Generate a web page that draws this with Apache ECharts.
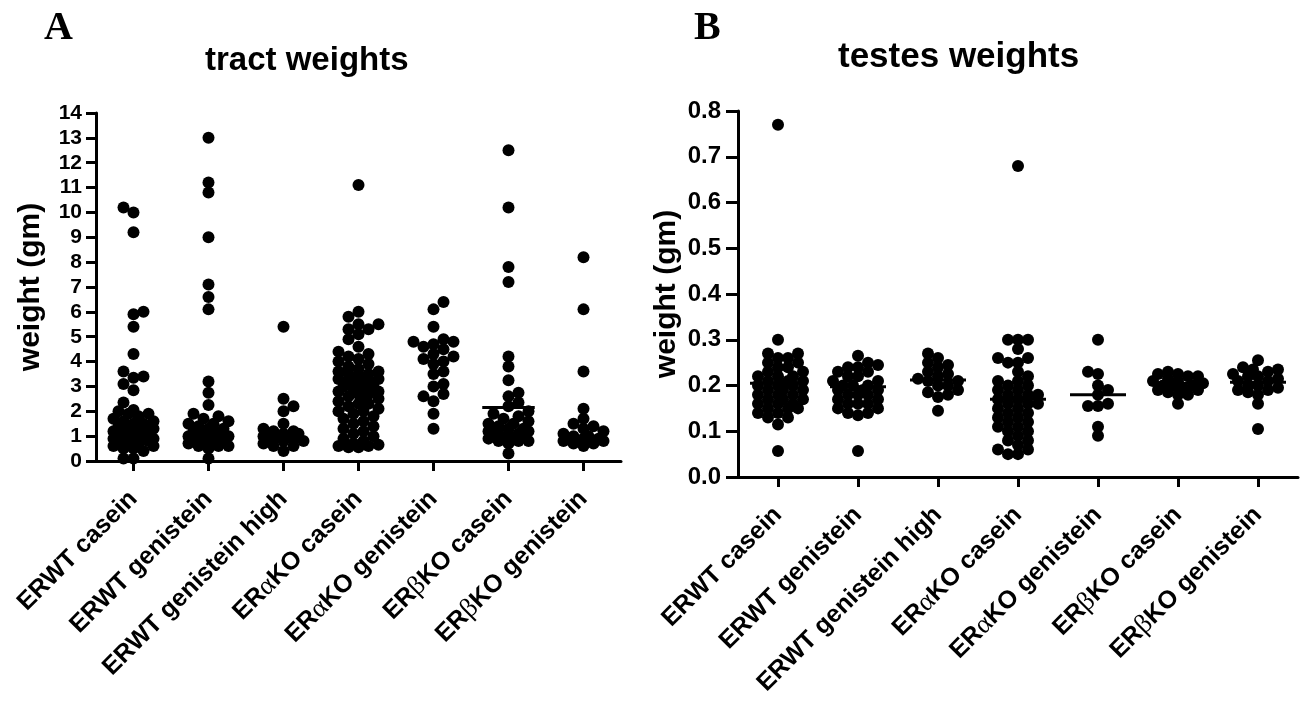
<!DOCTYPE html>
<html>
<head>
<meta charset="utf-8">
<script src="https://cdn.jsdelivr.net/npm/echarts@6/dist/echarts.min.js"></script>
<style>
html,body{margin:0;padding:0;background:#fff;}
#main{width:1307px;height:711px;}
</style>
</head>
<body>
<div id="main"></div>
<script>
// ---------- DATA ----------
const categories = ['ERWT casein','ERWT genistein','ERWT genistein high','ERαKO casein','ERαKO genistein','ERβKO casein','ERβKO genistein'];
const tractTicks = [0,1,2,3,4,5,6,7,8,9,10,11,12,13,14];
const testesTicks = [0.0,0.1,0.2,0.3,0.4,0.5,0.6,0.7,0.8];

// tract weights (gm)
const tractWtCasein = [10.2,10.0,9.2,5.9,6.0,5.4,4.3,3.6,3.35,3.4,3.1,2.85,2.35,2.05,2.0,1.9,1.9,1.8,1.7,1.6,1.6,1.5,1.5,1.4,1.4,1.4,1.3,1.3,1.2,1.2,1.2,1.1,1.1,1.0,1.0,1.0,0.9,0.9,0.9,0.8,0.8,0.8,0.7,0.7,0.7,0.6,0.6,0.5,0.5,0.4,0.1,0.1];
const tractWtGenistein = [13.0,11.2,10.8,9.0,6.6,7.1,6.1,3.2,2.75,2.25,1.9,1.8,1.7,1.6,1.5,1.5,1.4,1.3,1.3,1.2,1.2,1.1,1.0,1.0,1.0,0.9,0.9,0.8,0.8,0.8,0.7,0.7,0.6,0.6,0.6,0.5,0.1];
const tractWtGenHigh = [5.4,2.5,2.2,2.0,1.5,1.3,1.2,1.2,1.1,1.1,1.0,1.0,1.0,0.9,0.9,0.8,0.8,0.7,0.6,0.6,0.4];
const tractAKOCasein = [11.1,6.0,5.8,5.5,5.5,5.3,5.3,5.1,4.9,4.6,4.4,4.3,4.2,4.1,4.0,3.9,3.8,3.7,3.6,3.6,3.5,3.5,3.4,3.3,3.3,3.2,3.2,3.1,3.0,3.0,2.9,2.9,2.8,2.8,2.7,2.7,2.6,2.5,2.5,2.4,2.3,2.3,2.2,2.1,2.0,2.0,1.9,1.8,1.7,1.6,1.5,1.4,1.3,1.2,1.1,1.0,0.9,0.8,0.7,0.65,0.6,0.6,0.55,0.55];
const tractAKOGenistein = [6.4,6.1,5.4,4.9,4.8,4.8,4.7,4.6,4.5,4.3,4.2,4.1,4.0,3.9,3.6,3.5,3.1,3.0,2.7,2.6,2.4,1.9,1.3];
const tractBKOCasein = [12.5,10.2,7.8,7.2,4.2,3.8,3.25,2.75,2.6,2.35,2.2,2.0,1.9,1.8,1.7,1.6,1.5,1.5,1.4,1.3,1.3,1.2,1.2,1.1,1.1,1.0,1.0,1.0,0.9,0.9,0.9,0.8,0.8,0.8,0.7,0.3];
const tractBKOGenistein = [8.2,6.1,3.6,2.1,1.7,1.5,1.4,1.3,1.2,1.1,1.0,1.0,0.9,0.9,0.8,0.8,0.7,0.7,0.6];
// only the ERβKO casein central line is visible in the original; others are hidden by dots
const tractLines = [null,null,null,null,null,2.15,null];

// testes weights (gm)
const testesWtCasein = [0.77,0.30,0.27,0.27,0.26,0.26,0.25,0.25,0.24,0.24,0.23,0.23,0.22,0.22,0.22,0.21,0.21,0.21,0.20,0.20,0.20,0.20,0.19,0.19,0.19,0.18,0.18,0.18,0.17,0.17,0.17,0.16,0.16,0.16,0.15,0.15,0.15,0.14,0.14,0.13,0.13,0.115,0.057];
const testesWtGenistein = [0.265,0.25,0.245,0.24,0.24,0.23,0.23,0.22,0.22,0.21,0.21,0.20,0.20,0.20,0.19,0.19,0.19,0.18,0.18,0.18,0.17,0.17,0.16,0.16,0.16,0.15,0.15,0.14,0.14,0.135,0.057];
const testesWtGenHigh = [0.27,0.26,0.25,0.245,0.24,0.23,0.225,0.22,0.215,0.21,0.21,0.20,0.20,0.19,0.185,0.18,0.175,0.145];
const testesAKOCasein = [0.68,0.30,0.30,0.30,0.28,0.26,0.26,0.25,0.25,0.23,0.22,0.21,0.21,0.20,0.20,0.19,0.19,0.18,0.18,0.18,0.17,0.17,0.16,0.16,0.16,0.15,0.15,0.14,0.14,0.13,0.13,0.12,0.12,0.11,0.11,0.10,0.10,0.09,0.08,0.08,0.07,0.06,0.06,0.05,0.05];
const testesAKOGenistein = [0.30,0.23,0.225,0.20,0.19,0.18,0.16,0.155,0.155,0.11,0.09];
const testesBKOCasein = [0.23,0.225,0.225,0.22,0.22,0.215,0.21,0.21,0.205,0.20,0.20,0.20,0.195,0.19,0.19,0.185,0.18,0.18,0.16];
const testesBKOGenistein = [0.255,0.24,0.235,0.235,0.23,0.225,0.22,0.22,0.215,0.21,0.21,0.20,0.20,0.195,0.19,0.19,0.185,0.18,0.16,0.105];
const testesLines = [0.205,0.197,0.212,0.170,0.180,0.205,0.207];

const tractGroups = [tractWtCasein,tractWtGenistein,tractWtGenHigh,tractAKOCasein,tractAKOGenistein,tractBKOCasein,tractBKOGenistein];
const testesGroups = [testesWtCasein,testesWtGenistein,testesWtGenHigh,testesAKOCasein,testesAKOGenistein,testesBKOCasein,testesBKOGenistein];

// ---------- LAYOUT ----------
const G1 = {left:96, top:113, width:525, height:348};
const G2 = {left:738, top:111, width:560, height:366};
const FONT = 'Liberation Sans, Arial, sans-serif';

// beeswarm offsets in pixel space (layout only)
function swarm(values, pxPerUnit, step, maxOff, minDist) {
  const idx = values.map((v,i)=>i).sort((a,b)=>values[a]-values[b]);
  const placed = [];
  const offs = new Array(values.length);
  let flip = 1;
  for (const i of idx) {
    const y = values[i]*pxPerUnit;
    let best = 0, bestScore = -1;
    const cands = [0];
    for (let k=1; k*step<=maxOff; k++) { cands.push(flip*k*step, -flip*k*step); }
    flip = -flip;
    for (const s of cands) {
      let md = Infinity;
      for (const p of placed) { const d = Math.hypot(p.x-s, p.y-y); if (d<md) md=d; }
      if (md >= minDist) { best = s; bestScore = Infinity; break; }
      if (md > bestScore + 0.5) { bestScore = md; best = s; }
    }
    offs[i] = best;
    placed.push({x:best, y:y});
  }
  return offs;
}

function buildPoints(groups, band, pxPerUnit, step, maxOff, minDist) {
  const pts = [];
  groups.forEach((vals, gi) => {
    const offs = swarm(vals, pxPerUnit, step, maxOff, minDist);
    vals.forEach((v, j) => pts.push([gi + offs[j]/band, v]));
  });
  return pts;
}

const tractPts = buildPoints(tractGroups, G1.width/7, G1.height/14, 5, 24, 9);
const testesPts = buildPoints(testesGroups, G2.width/7, G2.height/0.8, 5, 27, 9);

function catAxis(gridIndex) {
  return {
    type:'category', gridIndex, data:categories, boundaryGap:true,
    axisLine:{show:true, onZero:false, lineStyle:{color:'#000', width:3}},
    axisTick:{show:true, alignWithLabel:true, length:10, lineStyle:{color:'#000', width:3}},
    axisLabel:{
      rotate:45, interval:0, margin:34, color:'#000', fontSize:25, fontWeight:'bold', fontFamily:FONT,
      formatter: v => v.replace(/([αβ])/, '{g|$1}'),
      rich:{g:{fontFamily:'Liberation Serif, DejaVu Serif, serif', fontSize:27, fontWeight:'normal', color:'#000'}}
    },
    splitLine:{show:false}
  };
}
function valX(gridIndex) {
  return {type:'value', gridIndex, min:-0.5, max:6.5, show:false, splitLine:{show:false}};
}
function yAx(gridIndex, max, interval, gap, dec, tickLen, margin, fs) {
  return {
    type:'value', gridIndex, min:0, max, interval,
    name:'weight (gm)', nameLocation:'middle', nameGap:gap,
    nameTextStyle:{fontSize:30, fontWeight:'bold', color:'#000', fontFamily:FONT},
    axisLine:{show:true, onZero:false, lineStyle:{color:'#000', width:3}},
    axisTick:{show:true, length:tickLen, lineStyle:{color:'#000', width:3}},
    axisLabel:{color:'#000', fontSize:fs, fontWeight:'bold', fontFamily:FONT, margin,
      formatter: v => dec ? v.toFixed(1) : String(v)},
    splitLine:{show:false}
  };
}

function lineSeries(xi, yi, vals) {
  return {
    type:'custom', xAxisIndex:xi, yAxisIndex:yi, z:1,
    data: vals.map((v,i)=>[i,v]).filter(d => d[1] != null),
    renderItem:(params, api) => {
      const i = api.value(0), v = api.value(1);
      const p1 = api.coord([i-0.35, v]);
      const p2 = api.coord([i+0.35, v]);
      return {type:'line', shape:{x1:p1[0], y1:p1[1], x2:p2[0], y2:p2[1]}, style:{stroke:'#000', lineWidth:3}};
    }
  };
}

const chart = echarts.init(document.getElementById('main'), null, {renderer:'canvas'});
chart.setOption({
  backgroundColor:'#fff',
  animation:false,
  grid:[
    {left:G1.left, top:G1.top, width:G1.width, height:G1.height, containLabel:false},
    {left:G2.left, top:G2.top, width:G2.width, height:G2.height, containLabel:false}
  ],
  xAxis:[catAxis(0), valX(0), catAxis(1), valX(1)],
  yAxis:[yAx(0, 14, 1, 50, false, 10, 14, 21), yAx(1, 0.8, 0.1, 56, true, 12, 17, 24)],
  graphic:[
    {type:'text', left:44, top:9, style:{text:'A', font:'bold 40px "Liberation Serif", serif', fill:'#000'}},
    {type:'text', left:694, top:9, style:{text:'B', font:'bold 40px "Liberation Serif", serif', fill:'#000'}},
    {type:'text', left:205, top:44, style:{text:'tract weights', font:'bold 33px "Liberation Sans", Arial, sans-serif', fill:'#000'}},
    {type:'text', left:838, top:40, style:{text:'testes weights', font:'bold 35px "Liberation Sans", Arial, sans-serif', fill:'#000'}}
  ],
  series:[
    lineSeries(1, 0, tractLines),
    {type:'scatter', xAxisIndex:1, yAxisIndex:0, data:tractPts, symbolSize:12, itemStyle:{color:'#000', opacity:1}, z:2},
    lineSeries(3, 1, testesLines),
    {type:'scatter', xAxisIndex:3, yAxisIndex:1, data:testesPts, symbolSize:12, itemStyle:{color:'#000', opacity:1}, z:2}
  ]
});
</script>
</body>
</html>
